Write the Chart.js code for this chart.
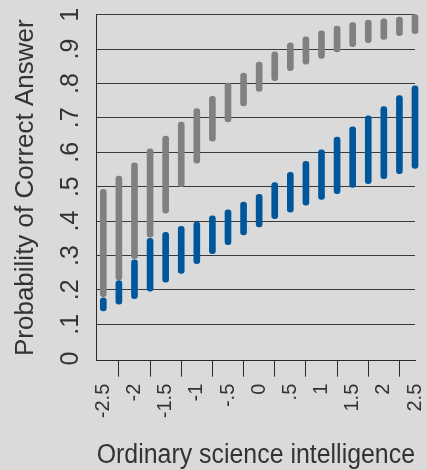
<!DOCTYPE html>
<html>
<head>
<meta charset="utf-8">
<script src="https://cdn.jsdelivr.net/npm/chart.js@4"></script>
<style>
  html, body { margin: 0; padding: 0; background: #dadada; }
  #wrap { width: 427px; height: 470px; }
  canvas { display: block; }
</style>
</head>
<body>
<div id="wrap"><canvas id="chart" width="427" height="470"></canvas></div>
<script>
// Ordinary science intelligence (x positions of the interval bars)
const intelligence = [-2.5, -2.25, -2, -1.75, -1.5, -1.25, -1, -0.75, -0.5, -0.25, 0,
                      0.25, 0.5, 0.75, 1, 1.25, 1.5, 1.75, 2, 2.25, 2.5];

// Gray intervals: lower / upper probability
const grayLow  = [0.180, 0.229, 0.291, 0.353, 0.423, 0.500, 0.568, 0.632, 0.688, 0.735, 0.777,
                  0.808, 0.837, 0.856, 0.873, 0.892, 0.907, 0.919, 0.928, 0.939, 0.945];
const grayHigh = [0.492, 0.531, 0.569, 0.610, 0.647, 0.688, 0.727, 0.763, 0.801, 0.830, 0.862,
                  0.892, 0.918, 0.936, 0.953, 0.967, 0.977, 0.984, 0.988, 0.993, 1.000];

// Blue intervals: lower / upper probability
const blueLow  = [0.139, 0.158, 0.174, 0.196, 0.222, 0.248, 0.276, 0.305, 0.331, 0.360, 0.383,
                  0.407, 0.426, 0.446, 0.463, 0.480, 0.498, 0.509, 0.523, 0.538, 0.553];
const blueHigh = [0.177, 0.227, 0.287, 0.350, 0.367, 0.385, 0.397, 0.415, 0.433, 0.455, 0.478,
                  0.512, 0.542, 0.574, 0.607, 0.644, 0.674, 0.706, 0.733, 0.765, 0.793];

// Axis ticks
const xTickValues = [-2.5, -2, -1.5, -1, -0.5, 0, 0.5, 1, 1.5, 2, 2.5];
const xTickLabels = ['-2.5', '-2', '-1.5', '-1', '-.5', '0', '.5', '1', '1.5', '2', '2.5'];
const yTickValues = [0, 0.1, 0.2, 0.3, 0.4, 0.5, 0.6, 0.7, 0.8, 0.9, 1];
const yTickLabels = ['0', '.1', '.2', '.3', '.4', '.5', '.6', '.7', '.8', '.9', '1'];

const FONT = '"Liberation Sans", Arial, sans-serif';
const INK = '#2a2a2a';
const TEXT = '#333333';
const GRAY = '#808080';
const BLUE = '#00569b';

const toPoints = (lo, hi) => intelligence.map((x, i) => ({ x: x, y: [lo[i], hi[i]] }));

const barStyle = {
  barThickness: 6,
  borderRadius: 3,
  borderSkipped: false,
  borderWidth: 0,
  grouped: false,
  clip: false
};

new Chart(document.getElementById('chart'), {
  type: 'bar',
  data: {
    datasets: [
      Object.assign({ label: 'Blue', data: toPoints(blueLow, blueHigh), backgroundColor: BLUE }, barStyle),
      Object.assign({ label: 'Gray', data: toPoints(grayLow, grayHigh), backgroundColor: GRAY }, barStyle)
    ]
  },
  options: {
    responsive: false,
    animation: false,
    devicePixelRatio: 1,
    layout: { padding: { top: 14.7, right: 12, bottom: 0, left: 0 } },
    plugins: {
      legend: { display: false },
      tooltip: { enabled: false }
    },
    scales: {
      x: {
        type: 'linear',
        min: -2.606,
        max: 2.5,
        offset: false,
        afterBuildTicks: (s) => { s.ticks = xTickValues.map(v => ({ value: v })); },
        afterFit: (s) => { s.height = 109.3; s.paddingLeft = 0; s.paddingRight = 0; },
        grid: {
          drawOnChartArea: false,
          drawTicks: true,
          tickLength: 16,
          color: INK,
          tickColor: INK,
          lineWidth: 1
        },
        border: { display: true, color: INK, width: 1 },
        ticks: {
          autoSkip: false,
          minRotation: 90,
          maxRotation: 90,
          padding: 7,
          color: TEXT,
          font: { family: FONT, size: 20 },
          callback: (v, i) => xTickLabels[i]
        },
        title: {
          display: true,
          text: 'Ordinary science intelligence',
          color: TEXT,
          font: { family: FONT, size: 27, lineHeight: 1.1 },
          padding: 0
        }
      },
      y: {
        min: -0.006,
        max: 1,
        afterBuildTicks: (s) => { s.ticks = yTickValues.map(v => ({ value: v })); },
        afterFit: (s) => { s.width = 96.7; s.paddingTop = 0; s.paddingBottom = 0; },
        grid: {
          drawTicks: false,
          lineWidth: 1,
          color: (c) => (c.tick && c.tick.value === 0) ? 'rgba(0,0,0,0)' : '#3a3a3a'
        },
        border: { display: true, color: INK, width: 1 },
        ticks: {
          autoSkip: false,
          minRotation: 90,
          maxRotation: 90,
          crossAlign: 'center',
          padding: 15,
          color: TEXT,
          font: { family: FONT, size: 25 },
          callback: (v, i) => yTickLabels[i]
        },
        title: {
          display: true,
          text: 'Probability of Correct Answer',
          color: TEXT,
          font: { family: FONT, size: 26 },
          padding: { top: 10, bottom: 0 }
        }
      }
    }
  }
});
</script>
</body>
</html>
